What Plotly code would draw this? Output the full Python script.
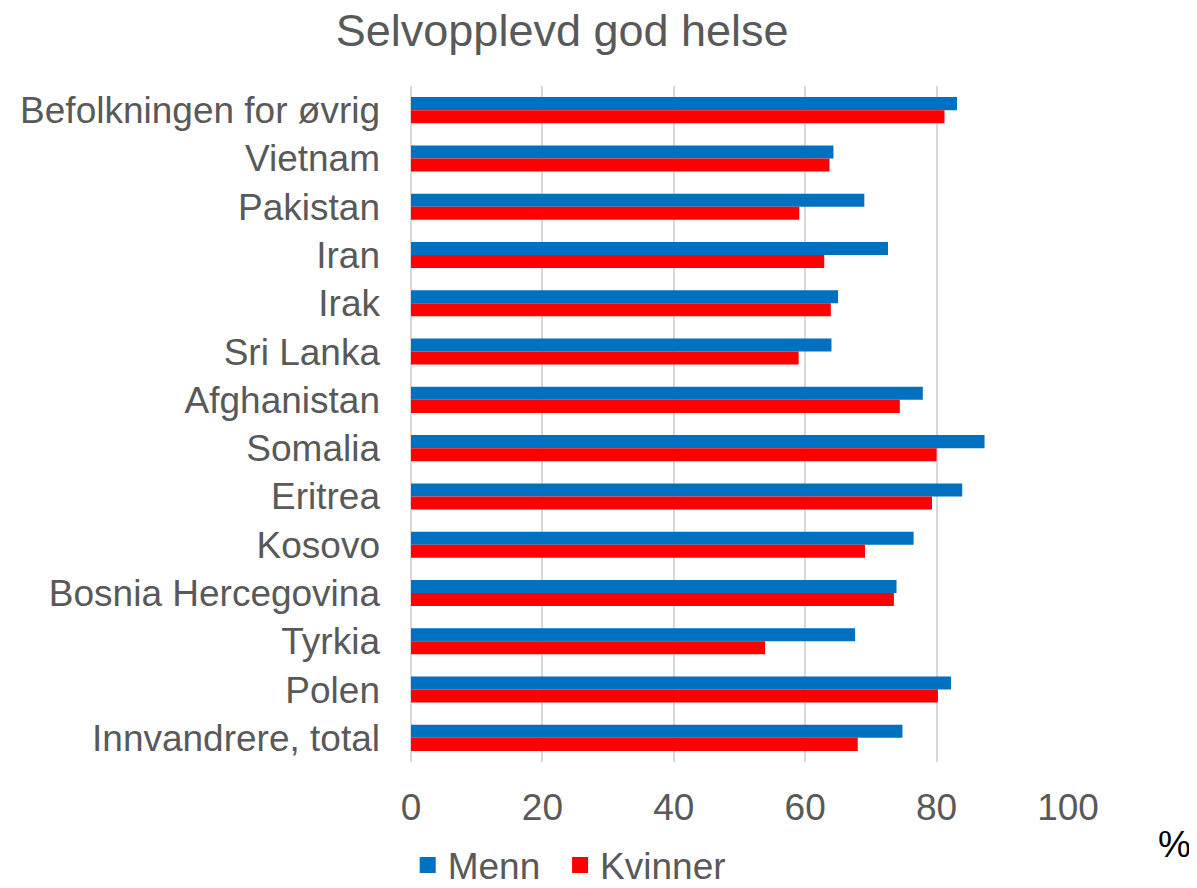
import plotly.graph_objects as go

# categories listed top to bottom, as in the chart
categories = [
    "Befolkningen for øvrig", "Vietnam", "Pakistan", "Iran", "Irak", "Sri Lanka",
    "Afghanistan", "Somalia", "Eritrea", "Kosovo", "Bosnia Hercegovina", "Tyrkia",
    "Polen", "Innvandrere, total",
]
menn = [83.1, 64.3, 69.0, 72.6, 65.0, 64.0, 77.9, 87.3, 83.9, 76.5, 73.9, 67.6, 82.2, 74.8]
kvinner = [81.2, 63.7, 59.1, 62.9, 63.9, 59.0, 74.4, 80.0, 79.3, 69.1, 73.5, 53.9, 80.2, 68.0]

x_ticks = [0, 20, 40, 60, 80, 100]

BLUE = "#0070C0"
RED = "#FF0000"
GREY_TXT = "#595959"
FONT = "Liberation Sans, Arial, sans-serif"

fig = go.Figure()
fig.add_trace(go.Bar(y=categories, x=menn, name="Menn", orientation="h", showlegend=False,
                     marker=dict(color=BLUE, line=dict(width=0))))
fig.add_trace(go.Bar(y=categories, x=kvinner, name="Kvinner", orientation="h", showlegend=False,
                     marker=dict(color=RED, line=dict(width=0))))
# legend-only entries, so the keys are big squares like the original
# (thin spaces after "Menn" widen the gap between the two entries)
for name, col in [("Menn\u2009\u2009", BLUE), ("Kvinner", RED)]:
    fig.add_trace(go.Scatter(x=[None], y=[None], mode="markers", name=name,
                             marker=dict(symbol="square", size=18, color=col)))

fig.update_layout(
    width=1197, height=888,
    barmode="group", bargap=0.46, bargroupgap=0,
    paper_bgcolor="white", plot_bgcolor="white",
    font=dict(family=FONT, color=GREY_TXT, size=37),
    margin=dict(l=403, r=137, t=78, b=134, autoexpand=False),
    title=dict(text="Selvopplevd god helse", font=dict(size=45, color=GREY_TXT),
               x=0.463, xref="container", xanchor="center",
               y=1 - 22 / 888, yref="container", yanchor="middle"),
    showlegend=True,
    legend=dict(orientation="h", x=-0.005, xanchor="left", y=-0.153, yanchor="middle",
                font=dict(size=37, color=GREY_TXT), itemwidth=30, tracegroupgap=0,
                bgcolor="rgba(0,0,0,0)"),
)
fig.update_xaxes(
    range=[0, 100], tickvals=x_ticks, ticktext=[str(v) for v in x_ticks],
    showgrid=True, gridcolor="#d9d9d9", gridwidth=2,
    zeroline=True, zerolinecolor="#d9d9d9", zerolinewidth=2,
    showline=False, ticks="", ticklabelstandoff=20,
    tickfont=dict(size=37, color=GREY_TXT),
)
fig.update_yaxes(
    autorange="reversed", showgrid=False, showline=False, ticks="",
    ticklabelstandoff=30, tickfont=dict(size=37, color=GREY_TXT),
)
fig.add_annotation(text="%", xref="paper", yref="paper", x=1.19, y=-0.155,
                   showarrow=False, font=dict(size=37, color="black"))

fig.write_html("out.html")
